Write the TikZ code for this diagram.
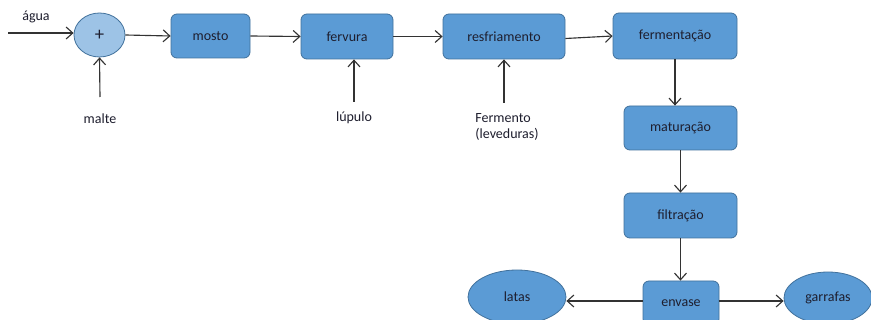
\documentclass[tikz,border=0pt]{standalone}
\usepackage{fontspec}
\setmainfont{Carlito}
\usetikzlibrary{arrows.meta,shapes.geometric}
\definecolor{boxfill}{HTML}{5B9BD5}
\definecolor{boxline}{HTML}{41719C}
\definecolor{lightfill}{HTML}{9DC3E6}
\definecolor{linec}{HTML}{333333}
\definecolor{txt}{HTML}{1E1E2E}
\tikzset{
  stepbox/.style={draw=boxline, fill=boxfill, rounded corners=4.5pt, line width=0.6pt, inner sep=0pt, text=txt, font=\fontsize{10.5pt}{12pt}\selectfont},
  ovalnode/.style={ellipse, draw=boxline, fill=boxfill, line width=0.6pt, inner sep=0pt, text=txt, font=\fontsize{10.5pt}{12pt}\selectfont},
  lbl/.style={inner sep=0pt, text=txt, font=\fontsize{10.5pt}{12.5pt}\selectfont},
  flow/.style={draw=linec, line width=0.85pt, -{Straight Barb[length=5pt,width=9pt,line width=0.85pt]}}
}
\begin{document}
\begin{tikzpicture}[x=0.75pt,y=-0.75pt]
\useasboundingbox (0,0) rectangle (871,320);
\clip (0,0) rectangle (871,320);
\fill[white] (0,0) rectangle (871,320);

\node[ovalnode, fill=lightfill, minimum width=38.25pt, minimum height=33pt, font=\fontsize{14pt}{14pt}\selectfont] (mix) at (99.5,35) {+};
\node[stepbox, minimum width=59.25pt, minimum height=33pt] (mosto) at (210.5,36) {mosto};
\node[stepbox, minimum width=69pt, minimum height=33.75pt] (ferv) at (347,36.5) {fervura};
\node[stepbox, minimum width=91.5pt, minimum height=33.75pt] (resf) at (504,36.5) {resfriamento};
\node[stepbox, minimum width=93pt, minimum height=34.5pt] (ferm) at (675,36) {fermentação};
\node[stepbox, minimum width=84.75pt, minimum height=33pt] (mat) at (680.5,128) {maturação};
\node[stepbox, minimum width=84.75pt, minimum height=33.75pt] (filt) at (680.5,215.5) {filtração};
\node[stepbox, minimum width=57pt, minimum height=33pt] (env) at (681,303) {envase};
\node[ovalnode, minimum width=73.5pt, minimum height=40.5pt] (latas) at (517,297) {latas};
\node[ovalnode, minimum width=66pt, minimum height=39pt] (garr) at (828,298) {garrafas};

\node[lbl] (agua) at (36,17) {água};
\node[lbl] (malte) at (100,119) {malte};
\node[lbl] (lupulo) at (354,118) {lúpulo};
\node[lbl, align=left] (fermento) at (507,127) {Fermento\\(leveduras)};

\coordinate (aguaS) at (8,33);
\coordinate (malteS) at (100,97);
\coordinate (lupS) at (354,102);
\coordinate (fermS) at (504,103);

\draw[flow] (aguaS) -- (aguaS -| mix.west);
\draw[flow] (malteS) -- (mix.south);
\draw[flow] (mix.east) -- (mosto.west);
\draw[flow] (mosto.east) -- (ferv.west);
\draw[flow] (lupS) -- (lupS |- ferv.south);
\draw[flow] (ferv.east) -- (resf.west);
\draw[flow] (fermS) -- (resf.south);
\draw[flow] ([yshift=-1.5pt]resf.east) -- (ferm.west);
\draw[flow] (ferm.south) -- (ferm.south |- mat.north);
\draw[flow] (mat.south) -- (mat.south |- filt.north);
\draw[flow] (filt.south) -- (filt.south |- env.north);
\draw[flow] ([yshift=1.5pt]env.west) -- ([yshift=1.5pt]env.west -| latas.east);
\draw[flow] ([yshift=1.5pt]env.east) -- ([yshift=1.5pt]env.east -| garr.west);
\end{tikzpicture}
\end{document}
